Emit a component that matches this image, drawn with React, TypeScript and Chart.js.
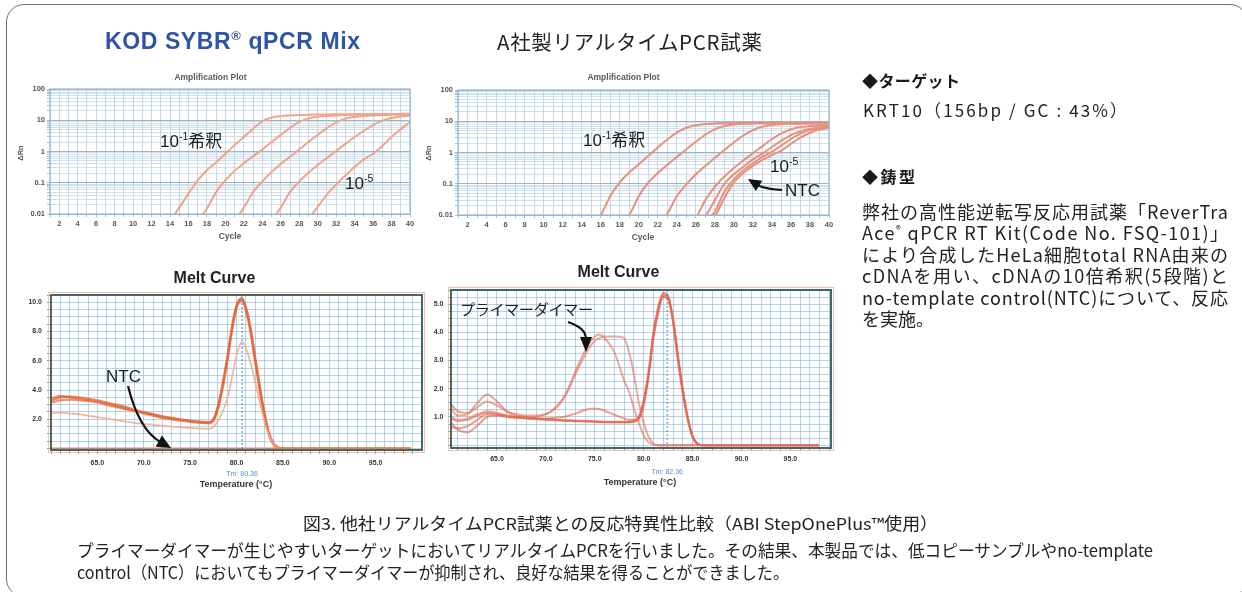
import React, { useEffect, useRef } from 'react';
import { Chart, registerables } from 'chart.js';

Chart.register(...registerables);

/* ============================ DATA ============================ */

// Amplification plot axes
const CYCLE_GRID = [1, 2, 3, 4, 5, 6, 7, 8, 9, 10, 11, 12, 13, 14, 15, 16, 17, 18, 19, 20, 21, 22, 23, 24, 25, 26, 27, 28, 29, 30, 31, 32, 33, 34, 35, 36, 37, 38, 39, 40];
const AMP_X_TICKS = [2, 4, 6, 8, 10, 12, 14, 16, 18, 20, 22, 24, 26, 28, 30, 32, 34, 36, 38, 40];
const AMP_X_TICK_LABELS = ['2', '4', '6', '8', '10', '12', '14', '16', '18', '20', '22', '24', '26', '28', '30', '32', '34', '36', '38', '40'];
const AMP_Y_TICKS = [0.01, 0.1, 1, 10, 100];
const AMP_Y_TICK_LABELS = ['0.01', '0.1', '1', '10', '100'];

// KOD SYBR qPCR Mix: ΔRn per cycle, starting at the listed first cycle
const KOD_AMP_START = [14, 17, 21, 25, 29];
const KOD_AMP_1 = [0.006, 0.016, 0.045, 0.12, 0.25, 0.45, 0.85, 1.6, 2.9, 5.3, 9.3, 12.2, 13.5, 14.2, 14.7, 15, 15.2, 15.4, 15.5, 15.6, 15.7, 15.8, 15.8, 15.9, 15.9, 16, 16];
const KOD_AMP_2 = [0.006, 0.015, 0.05, 0.12, 0.24, 0.42, 0.7, 1.15, 2.0, 3.4, 5.7, 8.8, 11.5, 13, 13.8, 14.3, 14.7, 15, 15.2, 15.4, 15.5, 15.6, 15.6, 15.7];
const KOD_AMP_3 = [0.006, 0.016, 0.05, 0.11, 0.22, 0.4, 0.68, 1.15, 2.0, 3.4, 5.6, 8.6, 11.3, 12.8, 13.7, 14.3, 14.7, 15, 15.2, 15.3];
const KOD_AMP_4 = [0.006, 0.016, 0.05, 0.11, 0.21, 0.37, 0.62, 1.05, 1.75, 2.9, 4.6, 7.0, 9.7, 11.8, 13.2, 14];
const KOD_AMP_5 = [0.007, 0.017, 0.042, 0.088, 0.17, 0.32, 0.56, 0.85, 1.5, 2.9, 5.2, 8.8];

// Company A reagent: ΔRn per cycle (5 dilutions + NTC)
const AG_AMP_START = [15, 18, 22, 25, 26, 27, 27];
const AG_AMP_1 = [0.005, 0.01, 0.04, 0.11, 0.23, 0.42, 0.78, 1.45, 2.6, 4.3, 6.2, 7.5, 8.1, 8.4, 8.6, 8.7, 8.8, 8.8, 8.9, 8.9, 8.9, 9, 9, 9, 9, 9];
const AG_AMP_2 = [0.005, 0.01, 0.04, 0.11, 0.22, 0.4, 0.72, 1.25, 2.2, 3.7, 5.5, 7.0, 7.9, 8.3, 8.5, 8.6, 8.7, 8.7, 8.8, 8.8, 8.8, 8.8, 8.8];
const AG_AMP_3 = [0.005, 0.011, 0.04, 0.095, 0.2, 0.37, 0.68, 1.2, 2.1, 3.5, 5.2, 6.7, 7.6, 8.1, 8.3, 8.4, 8.5, 8.5, 8.5];
const AG_AMP_4 = [0.004, 0.008, 0.03, 0.08, 0.17, 0.32, 0.56, 0.95, 1.6, 2.7, 4.1, 5.5, 6.5, 7.0, 7.3, 7.4];
const AG_AMP_5 = [0.004, 0.009, 0.03, 0.1, 0.2, 0.35, 0.6, 0.92, 1.5, 2.4, 3.6, 4.8, 5.8, 6.4, 6.8];
const AG_AMP_NTC1 = [0.006, 0.013, 0.055, 0.14, 0.27, 0.45, 0.72, 1.05, 1.7, 2.7, 4.0, 5.2, 6.0, 6.5];
const AG_AMP_NTC2 = [0.004, 0.009, 0.035, 0.11, 0.22, 0.37, 0.58, 0.82, 1.15, 1.9, 3.0, 4.3, 5.4, 6.1];

// Melt curve axes
const MELT_X_TICKS = [65, 70, 75, 80, 85, 90, 95];
const MELT_X_TICK_LABELS = ['65.0', '70.0', '75.0', '80.0', '85.0', '90.0', '95.0'];
const KOD_MELT_Y_TICKS = [2, 4, 6, 8, 10];
const KOD_MELT_Y_TICK_LABELS = ['2.0', '4.0', '6.0', '8.0', '10.0'];
const AG_MELT_Y_TICKS = [1, 2, 3, 4, 5];
const AG_MELT_Y_TICK_LABELS = ['1.0', '2.0', '3.0', '4.0', '5.0'];

// KOD melt curve (-Rn'), temperatures in °C
const KOD_MELT_T = [60.1, 61, 62, 63, 64, 65, 66, 67, 68, 69, 70, 71, 72, 73, 74, 75, 76, 77, 77.5, 78, 78.5, 79, 79.5, 80, 80.6, 81, 81.5, 82, 82.5, 83, 83.5, 84, 84.5, 85, 86, 88, 90, 92, 94, 96, 98.8];
const KOD_MELT_1 = [3.3, 3.5, 3.55, 3.5, 3.4, 3.3, 3.15, 3.0, 2.85, 2.65, 2.5, 2.35, 2.2, 2.1, 2.0, 1.9, 1.85, 1.8, 2.0, 2.9, 4.4, 6.2, 8.3, 9.8, 10.3, 9.5, 8.0, 6.0, 4.0, 2.2, 0.9, 0.25, 0.05, 0, 0, 0, 0, 0, 0, 0, 0];
const KOD_MELT_2 = [3.45, 3.6, 3.5, 3.4, 3.3, 3.2, 3.05, 2.9, 2.75, 2.6, 2.45, 2.3, 2.15, 2.05, 1.95, 1.87, 1.8, 1.75, 1.9, 2.7, 4.1, 5.9, 8.0, 9.6, 10.1, 9.6, 8.2, 6.2, 4.2, 2.4, 1.0, 0.3, 0.06, 0, 0, 0, 0, 0, 0, 0, 0];
const KOD_MELT_3 = [3.15, 3.3, 3.35, 3.3, 3.25, 3.15, 3.0, 2.85, 2.7, 2.55, 2.4, 2.25, 2.1, 2.0, 1.9, 1.82, 1.76, 1.72, 1.95, 2.8, 4.3, 6.1, 8.1, 9.7, 10.2, 9.7, 8.3, 6.3, 4.3, 2.5, 1.1, 0.35, 0.08, 0, 0, 0, 0, 0, 0, 0, 0];
const KOD_MELT_LOW = [2.4, 2.45, 2.4, 2.35, 2.25, 2.15, 2.05, 1.95, 1.85, 1.75, 1.7, 1.62, 1.55, 1.5, 1.45, 1.4, 1.37, 1.35, 1.45, 1.9, 2.5, 3.4, 4.8, 6.4, 7.3, 6.9, 5.9, 4.6, 3.2, 1.9, 0.9, 0.3, 0.05, 0, 0, 0, 0, 0, 0, 0, 0];
const KOD_NTC_T = [60.1, 98.8];
const KOD_NTC = [0, 0];
const KOD_TM_LABEL = 'Tm: 80.36';
const KOD_TM_AT = 80.6;

// Company A melt curve
const AG_MELT_T = [60.3, 61, 62, 63, 64, 65, 66, 67, 68, 69, 70, 71, 72, 73, 74, 75, 75.5, 76, 77, 78, 78.5, 79, 79.5, 80, 80.5, 81, 81.5, 82, 82.5, 83, 83.5, 84, 84.5, 85, 85.5, 86, 88, 90, 92, 94, 96, 97.9];
const AG_MELT_1 = [0.95, 0.85, 0.9, 1.05, 1.15, 1.1, 1.05, 1.0, 0.98, 0.95, 0.93, 0.9, 0.88, 0.86, 0.85, 0.83, 0.83, 0.82, 0.82, 0.82, 0.83, 0.85, 0.95, 1.5, 2.5, 3.9, 4.8, 5.3, 5.2, 4.4, 3.1, 1.9, 0.95, 0.3, 0.05, 0, 0, 0, 0, 0, 0, 0];
const AG_MELT_2 = [1.45, 1.2, 1.15, 1.5, 1.8, 1.55, 1.2, 1.05, 1.0, 0.95, 0.92, 0.9, 0.88, 0.87, 0.86, 0.85, 0.84, 0.83, 0.83, 0.83, 0.84, 0.87, 1.0, 1.6, 2.6, 4.0, 4.95, 5.4, 5.3, 4.5, 3.2, 2.0, 1.0, 0.32, 0.06, 0, 0, 0, 0, 0, 0, 0];
const AG_MELT_3 = [0.8, 0.55, 0.45, 0.7, 1.0, 1.05, 1.0, 0.97, 0.94, 0.92, 0.9, 0.88, 0.86, 0.85, 0.84, 0.83, 0.82, 0.81, 0.8, 0.8, 0.8, 0.83, 0.92, 1.4, 2.4, 3.8, 4.7, 5.25, 5.15, 4.35, 3.0, 1.8, 0.9, 0.28, 0.04, 0, 0, 0, 0, 0, 0, 0];
const AG_MELT_4 = [0.65, 0.6, 0.68, 0.9, 1.1, 1.08, 1.02, 0.98, 0.96, 0.95, 0.95, 0.97, 1.02, 1.12, 1.25, 1.3, 1.28, 1.22, 1.08, 0.95, 0.9, 0.9, 1.0, 1.55, 2.55, 3.95, 4.85, 5.35, 5.25, 4.45, 3.15, 1.95, 0.98, 0.3, 0.05, 0, 0, 0, 0, 0, 0, 0];
const AG_MELT_DIMER1 = [1.0, 0.9, 0.95, 1.1, 1.2, 1.15, 1.05, 1.0, 0.98, 1.0, 1.1, 1.35, 1.8, 2.6, 3.35, 3.85, 3.92, 3.8, 3.3, 2.3, 1.9, 1.3, 0.8, 0.35, 0.1, 0.02, 0, 0, 0, 0, 0, 0, 0, 0, 0, 0, 0, 0, 0, 0, 0, 0];
const AG_MELT_DIMER2 = [1.3, 1.05, 1.1, 1.35, 1.55, 1.4, 1.2, 1.1, 1.05, 1.05, 1.1, 1.3, 1.75, 2.5, 3.2, 3.7, 3.8, 3.85, 3.85, 3.8, 3.3, 2.5, 1.5, 0.8, 0.3, 0.05, 0, 0, 0, 0, 0, 0, 0, 0, 0, 0, 0, 0, 0, 0, 0, 0];
const AG_TM_LABEL = 'Tm: 82.36';
const AG_TM_AT = 82.4;

/* ============================ HELPERS ============================ */

const SANS = "'Liberation Sans', Arial, 'Noto Sans CJK JP', sans-serif";
const JP = "'Noto Sans CJK JP', 'Liberation Sans', sans-serif";
const TICK_FONT = { family: "'Liberation Sans', Arial, sans-serif", size: 7.5, weight: 'bold' as const };
const MELT_TICK_FONT = { family: "'Liberation Sans', Arial, sans-serif", size: 7, weight: 'bold' as const };

const byCycle = (start: number, vals: number[]) => vals.map((v, i) => ({ x: start + i, y: v }));
const byTemp = (temps: number[], vals: number[]) => vals.map((v, i) => ({ x: temps[i], y: v }));
const near = (a: number, b: number) => Math.abs(a - b) < 1e-6;
const labelFor = (v: number, ticks: number[], labels: string[]) => {
  const i = ticks.findIndex((t) => Math.abs(t - v) < 1e-6 * Math.max(1, Math.abs(t)));
  return i >= 0 ? labels[i] : '';
};

const framePlugin = {
  id: 'frame',
  afterDraw(chart: any, _a: any, opts: any) {
    const { ctx, chartArea: a } = chart;
    ctx.save();
    if (opts.outer) {
      ctx.strokeStyle = opts.outer;
      ctx.lineWidth = 1;
      ctx.strokeRect(a.left - 2.5, a.top - 2.5, a.right - a.left + 5, a.bottom - a.top + 5);
    }
    ctx.strokeStyle = opts.color;
    ctx.lineWidth = opts.width;
    ctx.strokeRect(a.left, a.top, a.right - a.left, a.bottom - a.top);
    ctx.restore();
  },
};

const tmPlugin = {
  id: 'tmLine',
  afterDatasetsDraw(chart: any, _a: any, opts: any) {
    if (opts.at == null) return;
    const { ctx, chartArea: a } = chart;
    const x = chart.scales.x.getPixelForValue(opts.at);
    ctx.save();
    ctx.strokeStyle = '#3f86e0';
    ctx.lineWidth = 1;
    ctx.setLineDash([2, 2]);
    ctx.beginPath();
    ctx.moveTo(x, a.top);
    ctx.lineTo(x, a.bottom);
    ctx.stroke();
    ctx.setLineDash([]);
    ctx.fillStyle = '#4d8fe0';
    ctx.font = "7px 'Liberation Sans', Arial, sans-serif";
    ctx.textAlign = 'center';
    ctx.textBaseline = 'alphabetic';
    ctx.fillText(opts.label, x, a.bottom + opts.dy);
    ctx.restore();
  },
};

function ampConfig(series: { x: number; y: number }[][], color: string, pad: any) {
  const logGrid: number[] = [];
  AMP_Y_TICKS.forEach((d, k) => {
    if (k === AMP_Y_TICKS.length - 1) logGrid.push(d);
    else for (let m = 1; m <= 9; m++) logGrid.push(d * m);
  });
  return {
    type: 'line',
    data: {
      datasets: series.map((s) => ({
        data: s,
        borderColor: color,
        borderWidth: 2,
        pointRadius: 0,
        cubicInterpolationMode: 'monotone',
        fill: false,
      })),
    },
    options: {
      animation: false,
      responsive: false,
      maintainAspectRatio: false,
      events: [],
      layout: { padding: pad },
      plugins: {
        legend: { display: false },
        tooltip: { enabled: false },
        frame: { color: '#8fbbd6', width: 1.2 },
      },
      scales: {
        x: {
          type: 'linear',
          min: 1,
          max: 40,
          afterBuildTicks: (s: any) => {
            s.ticks = CYCLE_GRID.map((v) => ({ value: v }));
          },
          afterFit: (s: any) => {
            s.height = 20;
          },
          border: { display: false },
          grid: { color: 'rgba(175,206,228,0.75)', lineWidth: 1, tickLength: 3, tickColor: '#9cc3dc' },
          ticks: {
            autoSkip: false,
            maxRotation: 0,
            minRotation: 0,
            padding: 2,
            color: '#555',
            font: TICK_FONT,
            callback: (v: number) => labelFor(v, AMP_X_TICKS, AMP_X_TICK_LABELS),
          },
        },
        y: {
          type: 'logarithmic',
          min: 0.01,
          max: 100,
          afterBuildTicks: (s: any) => {
            s.ticks = logGrid.map((v) => ({ value: v }));
          },
          afterFit: (s: any) => {
            s.width = 30;
          },
          border: { display: false },
          grid: {
            color: (c: any) => {
              const v = c.tick ? c.tick.value : 1;
              return near(Math.log10(v), Math.round(Math.log10(v))) ? 'rgba(150,172,192,0.9)' : 'rgba(188,212,230,0.7)';
            },
            lineWidth: 1,
            tickLength: 3,
            tickColor: '#9cc3dc',
          },
          ticks: {
            autoSkip: false,
            padding: 2,
            color: '#555',
            font: TICK_FONT,
            callback: (v: number) => labelFor(v, AMP_Y_TICKS, AMP_Y_TICK_LABELS),
          },
        },
      },
    },
    plugins: [framePlugin],
  };
}

function meltConfig(opts: {
  datasets: any[];
  xMin: number;
  xMax: number;
  yMin: number;
  yMax: number;
  yStep: number;
  yTicks: number[];
  yLabels: string[];
  pad: any;
  yW: number;
  xH: number;
  xTick: [number, number];
  yTick: [number, number];
  tmAt: number;
  tmLabel: string;
  tmDy: number;
}) {
  const xGrid: number[] = [];
  for (let t = Math.ceil(opts.xMin); t < opts.xMax; t++) xGrid.push(t);
  const yGrid: number[] = [];
  for (let v = 0; v <= opts.yMax + 1e-9; v += opts.yStep) yGrid.push(Math.round(v * 1000) / 1000);
  return {
    type: 'line',
    data: { datasets: opts.datasets },
    options: {
      animation: false,
      responsive: false,
      maintainAspectRatio: false,
      events: [],
      layout: { padding: opts.pad },
      plugins: {
        legend: { display: false },
        tooltip: { enabled: false },
        frame: { color: '#436769', width: 2, outer: 'rgba(240,175,150,0.8)' },
        tmLine: { at: opts.tmAt, label: opts.tmLabel, dy: opts.tmDy },
      },
      scales: {
        x: {
          type: 'linear',
          min: opts.xMin,
          max: opts.xMax,
          afterBuildTicks: (s: any) => {
            s.ticks = xGrid.map((v) => ({ value: v }));
          },
          afterFit: (s: any) => {
            s.height = opts.xH;
          },
          border: { display: false },
          grid: { color: 'rgba(130,182,220,0.6)', lineWidth: 1, tickLength: opts.xTick[0], tickColor: '#7f9ea0' },
          ticks: {
            autoSkip: false,
            maxRotation: 0,
            minRotation: 0,
            padding: opts.xTick[1],
            color: '#333',
            font: MELT_TICK_FONT,
            callback: (v: number) => labelFor(v, MELT_X_TICKS, MELT_X_TICK_LABELS),
          },
        },
        y: {
          type: 'linear',
          min: opts.yMin,
          max: opts.yMax,
          afterBuildTicks: (s: any) => {
            s.ticks = yGrid.map((v) => ({ value: v }));
          },
          afterFit: (s: any) => {
            s.width = opts.yW;
          },
          border: { display: false },
          grid: { color: 'rgba(130,182,220,0.6)', lineWidth: 1, tickLength: opts.yTick[0], tickColor: '#7f9ea0' },
          ticks: {
            autoSkip: false,
            padding: opts.yTick[1],
            color: '#333',
            font: MELT_TICK_FONT,
            callback: (v: number) => labelFor(v, opts.yTicks, opts.yLabels),
          },
        },
      },
    },
    plugins: [framePlugin, tmPlugin],
  };
}

const meltLine = (data: any, color: string, width: number) => ({
  data,
  borderColor: color,
  borderWidth: width,
  pointRadius: 0,
  cubicInterpolationMode: 'monotone',
  fill: false,
});

function ChartBox({ make, left, top, width, height }: any) {
  const ref = useRef<HTMLCanvasElement>(null);
  useEffect(() => {
    const chart = new Chart(ref.current as HTMLCanvasElement, make());
    return () => chart.destroy();
  }, []);
  return (
    <canvas
      ref={ref}
      width={width}
      height={height}
      style={{ position: 'absolute', left, top, width, height, display: 'block' }}
    />
  );
}

function Arrow({ t, c, h, len = 13, half = 6 }: any) {
  const dx = h[0] - c[0];
  const dy = h[1] - c[1];
  const d = Math.hypot(dx, dy);
  const ux = dx / d;
  const uy = dy / d;
  const bx = h[0] - ux * len;
  const by = h[1] - uy * len;
  const px = -uy * half;
  const py = ux * half;
  return (
    <g>
      <path d={`M${t[0]},${t[1]} Q${c[0]},${c[1]} ${bx + ux * 2},${by + uy * 2}`} stroke="#111" strokeWidth={2.2} fill="none" />
      <polygon points={`${h[0]},${h[1]} ${bx + px},${by + py} ${bx - px},${by - py}`} fill="#111" />
    </g>
  );
}

function Pow({ x, y, base, exp, tail, size = 17 }: any) {
  return (
    <text x={x} y={y} fontFamily={SANS} fontSize={size} fill="#1a1a1a">
      {base}
      <tspan fontSize={size * 0.62} dy={-size * 0.42}>{exp}</tspan>
      <tspan dy={size * 0.42} fontFamily={JP}>{tail}</tspan>
    </text>
  );
}

/* ============================ APP ============================ */

export default function App() {
  const kodAmp = () =>
    ampConfig(
      [KOD_AMP_1, KOD_AMP_2, KOD_AMP_3, KOD_AMP_4, KOD_AMP_5].map((v, k) => byCycle(KOD_AMP_START[k], v)),
      '#f3a386',
      { left: 10, right: 20, top: 19, bottom: 6 }
    );
  const agAmp = () =>
    ampConfig(
      [AG_AMP_1, AG_AMP_2, AG_AMP_3, AG_AMP_4, AG_AMP_5, AG_AMP_NTC1, AG_AMP_NTC2].map((v, k) => byCycle(AG_AMP_START[k], v)),
      '#e98f7a',
      { left: 10, right: 20, top: 19, bottom: 6 }
    );
  const kodMelt = () =>
    meltConfig({
      datasets: [
        meltLine(byTemp(KOD_NTC_T, KOD_NTC), 'rgba(238,125,75,0.9)', 2),
        meltLine(byTemp(KOD_MELT_T, KOD_MELT_LOW), 'rgba(243,170,140,0.9)', 1.6),
        meltLine(byTemp(KOD_MELT_T, KOD_MELT_3), 'rgba(232,100,50,0.7)', 2.2),
        meltLine(byTemp(KOD_MELT_T, KOD_MELT_2), 'rgba(232,100,50,0.7)', 2.2),
        meltLine(byTemp(KOD_MELT_T, KOD_MELT_1), 'rgba(228,92,42,0.75)', 2.2),
      ],
      xMin: 60,
      xMax: 100,
      yMin: -0.1,
      yMax: 10.5,
      yStep: 0.5,
      yTicks: KOD_MELT_Y_TICKS,
      yLabels: KOD_MELT_Y_TICK_LABELS,
      pad: { left: 5, right: 15, top: 15, bottom: 14 },
      yW: 41,
      xH: 16,
      xTick: [4, 4.5],
      yTick: [4, 5],
      tmAt: KOD_TM_AT,
      tmLabel: KOD_TM_LABEL,
      tmDy: 25.5,
    });
  const agMelt = () =>
    meltConfig({
      datasets: [
        meltLine(byTemp(AG_MELT_T, AG_MELT_DIMER2), 'rgba(232,112,88,0.6)', 2),
        meltLine(byTemp(AG_MELT_T, AG_MELT_DIMER1), 'rgba(232,112,88,0.6)', 2),
        meltLine(byTemp(AG_MELT_T, AG_MELT_4), 'rgba(226,98,72,0.6)', 2),
        meltLine(byTemp(AG_MELT_T, AG_MELT_3), 'rgba(226,98,72,0.6)', 2),
        meltLine(byTemp(AG_MELT_T, AG_MELT_2), 'rgba(226,98,72,0.6)', 2),
        meltLine(byTemp(AG_MELT_T, AG_MELT_1), 'rgba(226,98,72,0.6)', 2),
      ],
      xMin: 60.3,
      xMax: 99.15,
      yMin: -0.1,
      yMax: 5.5,
      yStep: 0.25,
      yTicks: AG_MELT_Y_TICKS,
      yLabels: AG_MELT_Y_TICK_LABELS,
      pad: { left: 5, right: 15, top: 15, bottom: 14 },
      yW: 35,
      xH: 18,
      xTick: [3, 4],
      yTick: [3, 4.5],
      tmAt: AG_TM_AT,
      tmLabel: AG_TM_LABEL,
      tmDy: 26,
    });

  return (
    <div
      style={{
        position: 'absolute',
        left: 0,
        top: 0,
        width: 1242,
        height: 592,
        overflow: 'hidden',
        background: '#fff',
      }}
    >
      <div
        style={{
          position: 'absolute',
          left: 6,
          top: 4,
          width: 1242,
          height: 593,
          border: '1.5px solid #6f6f6f',
          borderRadius: 18,
          boxSizing: 'border-box',
        }}
      />
      <ChartBox make={kodAmp} left={10} top={70} width={420} height={170} />
      <ChartBox make={agAmp} left={418} top={71} width={431} height={170} />
      <ChartBox make={kodMelt} left={5} top={280} width={432} height={200} />
      <ChartBox make={agMelt} left={411} top={275} width={435} height={205} />

      <svg
        width={1242}
        height={592}
        style={{ position: 'absolute', left: 0, top: 0, pointerEvents: 'none' }}
      >
        {/* headers */}
        <text x={105} y={49} fontFamily={SANS} fontWeight="bold" fontSize={23} fill="#2c55a6" textLength={255}>
          KOD SYBR<tspan fontSize={13} dy={-9}>®</tspan>
          <tspan dy={9}> qPCR Mix</tspan>
        </text>
        <text x={497} y={50} fontFamily={JP} fontSize={20.5} fill="#222" textLength={265}>
          A社製リアルタイムPCR試薬
        </text>

        {/* amplification plot texts */}
        <text x={210.5} y={80} textAnchor="middle" fontFamily={SANS} fontWeight="bold" fontSize={8.5} fill="#5a5a5a">
          Amplification Plot
        </text>
        <text x={623.5} y={80} textAnchor="middle" fontFamily={SANS} fontWeight="bold" fontSize={8.5} fill="#5a5a5a">
          Amplification Plot
        </text>
        <text transform="translate(23,153) rotate(-90)" textAnchor="middle" fontFamily={SANS} fontWeight="bold" fontSize={7.5} fill="#5a5a5a">
          ΔRn
        </text>
        <text transform="translate(431,153) rotate(-90)" textAnchor="middle" fontFamily={SANS} fontWeight="bold" fontSize={7.5} fill="#5a5a5a">
          ΔRn
        </text>
        <text x={230} y={238.5} textAnchor="middle" fontFamily={SANS} fontWeight="bold" fontSize={8.5} fill="#5a5a5a">
          Cycle
        </text>
        <text x={643} y={239.5} textAnchor="middle" fontFamily={SANS} fontWeight="bold" fontSize={8.5} fill="#5a5a5a">
          Cycle
        </text>
        <Pow x={160} y={147} base="10" exp="-1" tail="希釈" />
        <Pow x={345} y={189} base="10" exp="-5" tail="" />
        <Pow x={583} y={146} base="10" exp="-1" tail="希釈" />
        <Pow x={770} y={172} base="10" exp="-5" tail="" />
        <text x={785} y={196} fontFamily={SANS} fontSize={17} fill="#1a1a1a">NTC</text>
        <Arrow t={[782, 190]} c={[764, 189]} h={[748, 179]} len={13} half={6} />

        {/* melt curve texts */}
        <text x={214.5} y={283} textAnchor="middle" fontFamily={SANS} fontWeight="bold" fontSize={16} fill="#222">
          Melt Curve
        </text>
        <text x={618.5} y={276.5} textAnchor="middle" fontFamily={SANS} fontWeight="bold" fontSize={16} fill="#222">
          Melt Curve
        </text>
        <text x={236} y={487} textAnchor="middle" fontFamily={SANS} fontWeight="bold" fontSize={9} fill="#333">
          Temperature (°C)
        </text>
        <text x={640} y={485} textAnchor="middle" fontFamily={SANS} fontWeight="bold" fontSize={9} fill="#333">
          Temperature (°C)
        </text>
        <text x={106} y={381.5} fontFamily={SANS} fontSize={17} fill="#1a1a1a">NTC</text>
        <Arrow t={[128, 386]} c={[139, 430]} h={[171, 448]} len={14} half={6.5} />
        <text x={460} y={315} fontFamily={JP} fontSize={15} fill="#1a1a1a" textLength={133}>
          プライマーダイマー
        </text>
        <Arrow t={[568, 322]} c={[586, 328]} h={[586, 352]} len={15} half={6} />

        {/* right panel */}
        <text x={862} y={87} fontFamily={JP} fontWeight="bold" fontSize={16} fill="#1a1a1a" textLength={98}>
          ◆ターゲット
        </text>
        <text x={863} y={117} fontFamily={JP} fontSize={17} fill="#222" textLength={264}>
          KRT10（156bp / GC : 43%）
        </text>
        <text x={862} y={183} fontFamily={JP} fontWeight="bold" fontSize={16} fill="#1a1a1a" textLength={53}>
          ◆鋳型
        </text>
        <text x={862} y={218.5} fontFamily={JP} fontSize={18} fill="#222" textLength={366}>
          弊社の高性能逆転写反応用試薬「ReverTra
        </text>
        <text x={862} y={240} fontFamily={JP} fontSize={18} fill="#222" textLength={366}>
          Ace<tspan fontSize={10} dy={-7}>®</tspan>
          <tspan dy={7}> qPCR RT Kit(Code No. FSQ-101)」</tspan>
        </text>
        <text x={862} y={261.5} fontFamily={JP} fontSize={18} fill="#222" textLength={366}>
          により合成したHeLa細胞total RNA由来の
        </text>
        <text x={862} y={283} fontFamily={JP} fontSize={18} fill="#222" textLength={366}>
          cDNAを用い、cDNAの10倍希釈(5段階)と
        </text>
        <text x={862} y={304.5} fontFamily={JP} fontSize={18} fill="#222" textLength={366}>
          no-template control(NTC)について、反応
        </text>
        <text x={862} y={326} fontFamily={JP} fontSize={18} fill="#222">
          を実施。
        </text>

        {/* caption */}
        <text x={303} y={530} fontFamily={JP} fontSize={16.5} fill="#222" textLength={635} lengthAdjust="spacingAndGlyphs">
          図3.  他社リアルタイムPCR試薬との反応特異性比較（ABI StepOnePlus™使用）
        </text>
        <text x={77} y={557} fontFamily={JP} fontSize={17} fill="#222" textLength={1076} lengthAdjust="spacingAndGlyphs">
          プライマーダイマーが生じやすいターゲットにおいてリアルタイムPCRを行いました。その結果、本製品では、低コピーサンプルやno-template
        </text>
        <text x={77} y={579} fontFamily={JP} fontSize={17} fill="#222" textLength={712} lengthAdjust="spacingAndGlyphs">
          control（NTC）においてもプライマーダイマーが抑制され、良好な結果を得ることができました。
        </text>
      </svg>
    </div>
  );
}
